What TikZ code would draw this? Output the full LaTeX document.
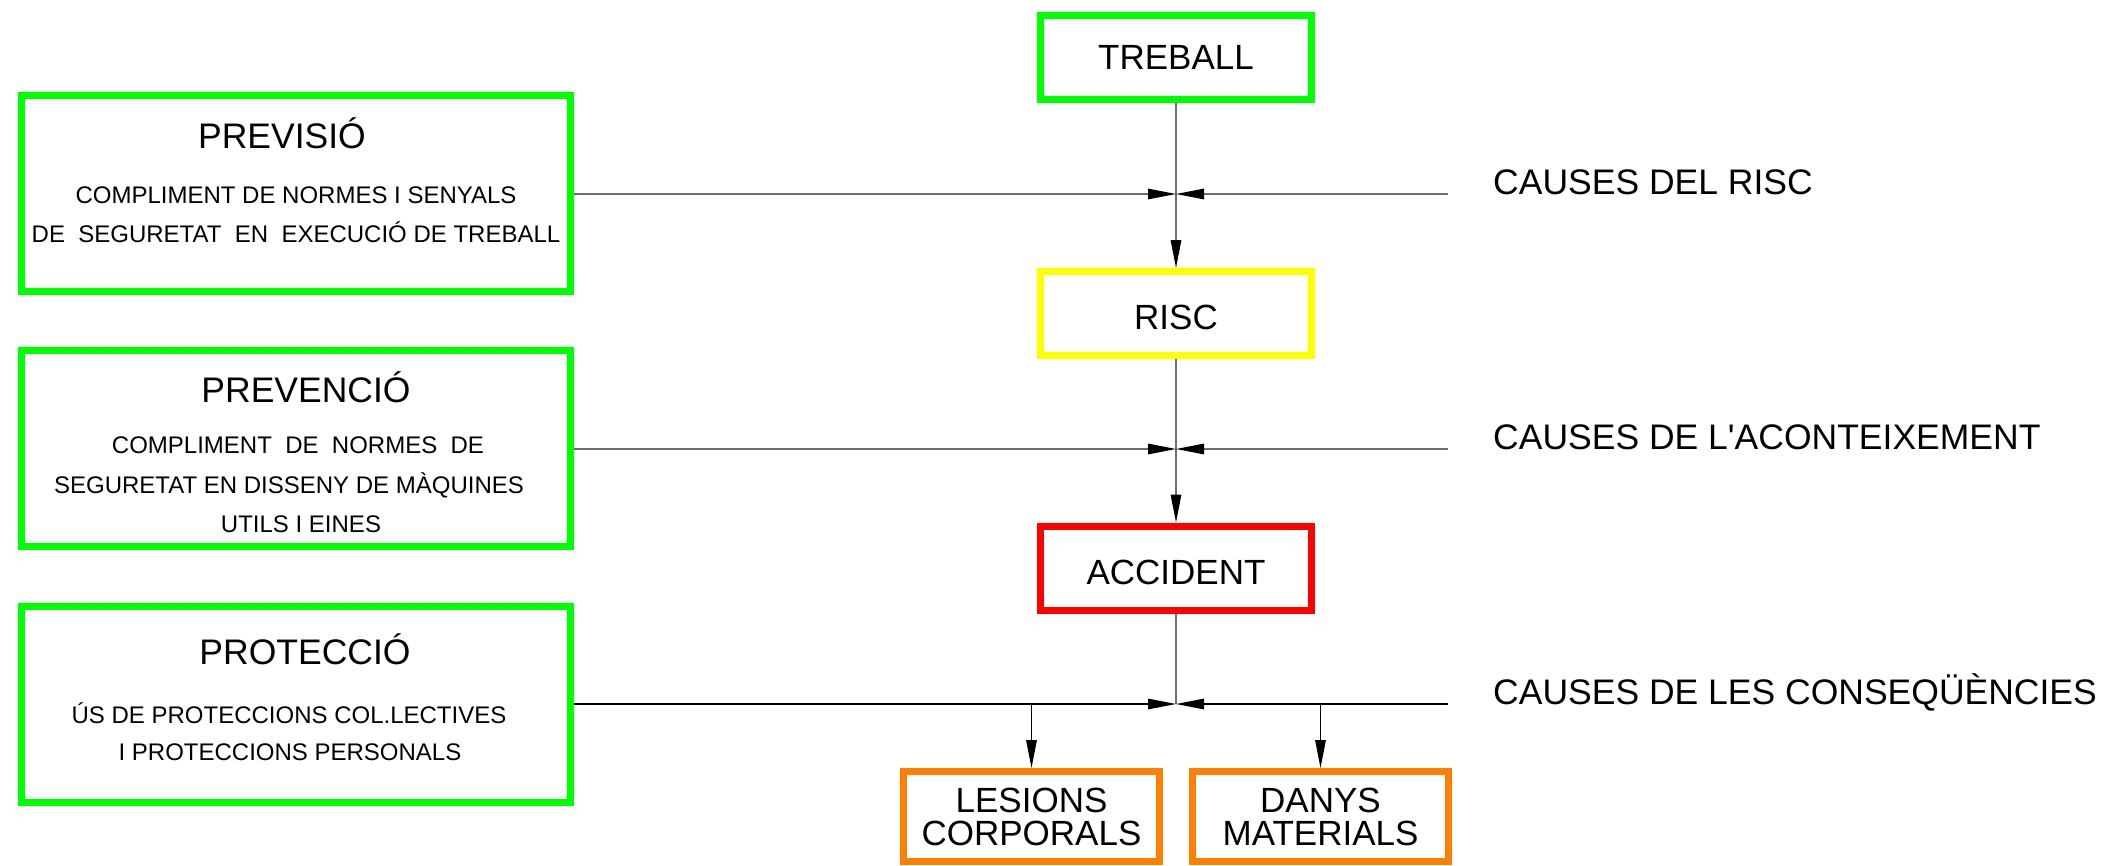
\documentclass[tikz,border=0pt]{standalone}
\usepackage{fontspec}
\newfontfamily\arial{Liberation Sans}
\usetikzlibrary{arrows.meta}
\definecolor{bgreen}{HTML}{00FF00}
\definecolor{byellow}{HTML}{FFFF00}
\definecolor{bred}{HTML}{FF0000}
\definecolor{borange}{HTML}{FF8000}
\definecolor{lgray}{HTML}{6E6E6E}
\begin{document}
\begin{tikzpicture}[x=1pt,y=-1pt,
  box/.style={draw, line width=7pt, inner sep=0pt, outer sep=3.5pt, align=center,
    font=\arial\fontsize{35}{33}\selectfont},
  cbox/.style={box, minimum width=271pt, minimum height=84pt},
  lbox/.style={box, draw=bgreen, minimum width=549pt, minimum height=196pt},
  obox/.style={box, draw=borange, minimum width=256pt, minimum height=90pt},
  big/.style={inner sep=0pt, anchor=base, font=\arial\fontsize{35.5}{40}\selectfont},
  small/.style={inner sep=0pt, anchor=base, font=\arial\fontsize{24}{28}\selectfont},
  cause/.style={inner sep=0pt, anchor=base west, font=\arial\fontsize{35.5}{40}\selectfont},
  conn/.style={line width=1.4pt, draw=lgray},
  tip/.style={-{Triangle[length=28pt,width=10.5pt,color=black]}},
]
\useasboundingbox (0,0) rectangle (2110,865);

% central chain
\node[cbox, draw=bgreen] (treball) at (1176,57.5) {TREBALL};
\node[cbox, draw=byellow, text height=33pt] (risc) at (1176,313.5) {RISC};
\node[cbox, draw=bred, text height=33pt] (accident) at (1176,568) {ACCIDENT};

% consequences
\node[obox] (lesions) at (1031.5,816.5) {LESIONS\\CORPORALS};
\node[obox] (danys) at (1320.5,816.5) {DANYS\\MATERIALS};

% left boxes
\node[lbox] (previsio) at (296,193.5) {};
\node[lbox] (prevencio) at (296,448.5) {};
\node[lbox] (proteccio) at (296,704) {};

\node[big] (t1) at (282,148) {PREVISIÓ};
\node[small] (t1a) at (296,203) {COMPLIMENT DE NORMES I SENYALS};
\node[small] (t1b) at (296,242) {DE\ \ SEGURETAT\ \ EN\ \ EXECUCIÓ DE TREBALL};

\node[big] (t2) at (306,402) {PREVENCIÓ};
\node[small] (t2a) at (298,453) {COMPLIMENT\ \ DE\ \ NORMES\ \ DE};
\node[small] (t2b) at (289,493) {SEGURETAT EN DISSENY DE MÀQUINES};
\node[small] (t2c) at (301,532) {UTILS I EINES};

\node[big] (t3) at (305,664) {PROTECCIÓ};
\node[small] (t3a) at (289,723) {ÚS DE PROTECCIONS COL.LECTIVES};
\node[small] (t3b) at (290,760) {I PROTECCIONS PERSONALS};

% junction points
\coordinate (c1) at (1176,194);
\coordinate (e1) at (1448,194);
\coordinate (c2) at (1176,449);
\coordinate (e2) at (1448,449);
\coordinate (c3) at (1176,704);
\coordinate (e3) at (1448,704);

% right labels
\node[cause] (k1) at (1493,194) {CAUSES DEL RISC};
\node[cause] (k2) at (1493,449) {CAUSES DE L'ACONTEIXEMENT};
\node[cause] (k3) at (1493,704) {CAUSES DE LES CONSEQÜÈNCIES};

% connectors
\draw[conn,tip] (treball.south) -- (risc.north);
\draw[conn,tip] (previsio.east |- c1) -- (c1);
\draw[conn,tip] (e1) -- (c1);
\draw[conn,tip] (risc.south) -- (accident.north);
\draw[conn,tip] (prevencio.east |- c2) -- (c2);
\draw[conn,tip] (e2) -- (c2);
\draw[conn] (accident.south) -- (c3);
\draw[conn,draw=black,tip] (proteccio.east |- c3) -- (c3);
\draw[conn,draw=black,tip] (e3) -- (c3);
\draw[conn,draw=black,tip] (lesions.north |- c3) -- (lesions.north);
\draw[conn,draw=black,tip] (danys.north |- c3) -- (danys.north);
\end{tikzpicture}
\end{document}
